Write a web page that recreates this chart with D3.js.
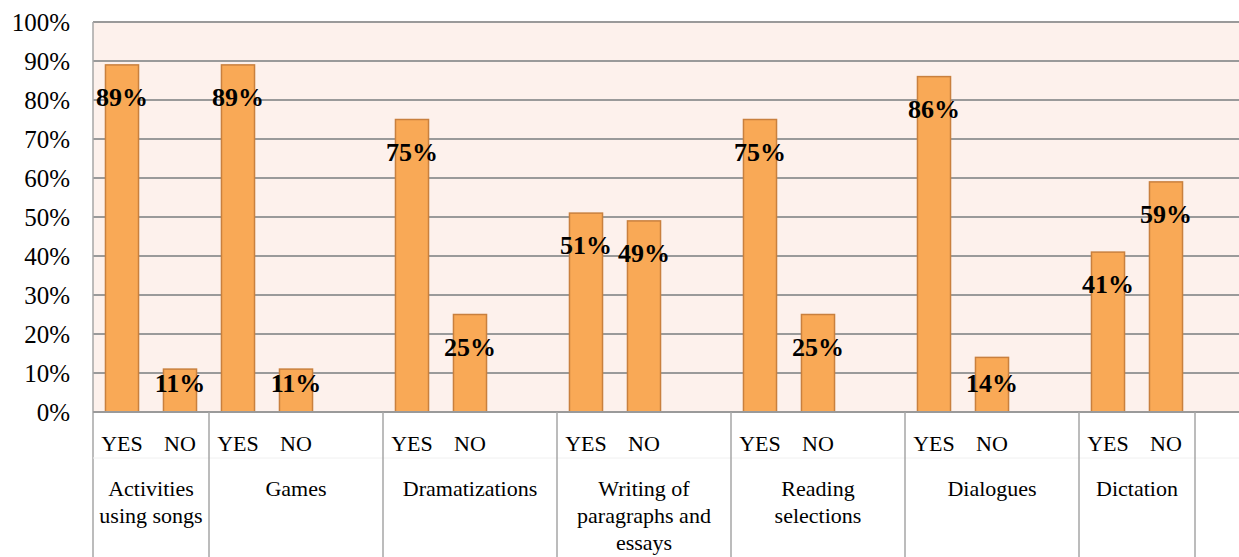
<!DOCTYPE html>
<html>
<head>
<meta charset="utf-8">
<script src="https://d3js.org/d3.v7.min.js"></script>
<style>
  body { margin: 0; background: #fff; }
  svg text { font-family: 'Liberation Serif', 'Times New Roman', Times, serif; fill: #000; }
</style>
</head>
<body>
<div id="chart"></div>
<script>
// chart data
var categories = ["Activities using songs", "Games", "Dramatizations",
  "Writing of paragraphs and essays", "Reading selections", "Dialogues", "Dictation"];
var categoryLines = [["Activities", "using songs"], ["Games"], ["Dramatizations"],
  ["Writing of", "paragraphs and", "essays"], ["Reading", "selections"], ["Dialogues"], ["Dictation"]];
var answers = ["YES", "NO"];
var yesValues = [89, 89, 75, 51, 75, 86, 41];
var noValues = [11, 11, 25, 49, 25, 14, 59];
// empty slot after the NO bar in these groups (as in the original sheet)
var blankAfter = [false, true, true, true, true, true, false];
var yTicks = [0, 10, 20, 30, 40, 50, 60, 70, 80, 90, 100];

var svgWidth = 1239;
var svgHeight = 557;
var serif = "Liberation Serif";

var margin = { top: 22, left: 93 };
var plotHeight = 390;
var slotWidth = 58;

// build the slots of the category axis
var slots = [];
categories.forEach(function(cat, i) {
  slots.push({ cat: i, answer: answers[0], value: yesValues[i] });
  slots.push({ cat: i, answer: answers[1], value: noValues[i] });
  if (blankAfter[i]) slots.push({ cat: i, answer: "", value: null });
});
// trailing empty group (cut off at the right edge)
slots.push({ cat: categories.length, answer: "", value: null });
slots.forEach(function(d, i) { d.key = "s" + i; });

var svg = d3.select("#chart").append("svg")
  .attr("width", svgWidth)
  .attr("height", svgHeight)
  .attr("font-family", serif);

var xScale = d3.scaleBand()
  .domain(slots.map(d => d.key))
  .range([margin.left, margin.left + slots.length * slotWidth])
  .padding(0);

var yScale = d3.scaleLinear()
  .domain([0, 100])
  .range([margin.top + plotHeight, margin.top]);

var plotRight = xScale.range()[1];
var y0 = yScale(0);

// plot background
svg.append("rect")
  .attr("x", margin.left)
  .attr("y", yScale(100))
  .attr("width", plotRight - margin.left)
  .attr("height", plotHeight)
  .attr("fill", "#fdf1ec");

// gridlines
svg.append("g")
  .selectAll("line")
  .data(yTicks)
  .enter()
  .append("line")
  .attr("x1", margin.left)
  .attr("x2", plotRight)
  .attr("y1", d => yScale(d))
  .attr("y2", d => yScale(d))
  .attr("stroke", "#9a9a9a")
  .attr("stroke-width", 2);

// left border of plot
svg.append("line")
  .attr("x1", margin.left).attr("x2", margin.left)
  .attr("y1", yScale(100)).attr("y2", svgHeight)
  .attr("stroke", "#a6a6a6")
  .attr("stroke-width", 1.5);

// y axis labels
var leftAxis = d3.axisLeft(yScale)
  .tickValues(yTicks)
  .tickFormat(d => d + "%")
  .tickSize(0)
  .tickPadding(23);

var yAxis = svg.append("g")
  .attr("transform", `translate(${margin.left}, 0)`)
  .call(leftAxis)
  .attr("font-family", serif)
  .attr("font-size", 25);
yAxis.select(".domain").remove();
yAxis.selectAll("text").attr("font-family", serif).attr("fill", "#000");

// bars
var barWidth = xScale.bandwidth() * 0.57;
var barSlots = slots.filter(d => d.value !== null);

svg.append("g")
  .selectAll("rect")
  .data(barSlots)
  .enter()
  .append("rect")
  .attr("x", d => xScale(d.key) + (xScale.bandwidth() - barWidth) / 2)
  .attr("y", d => yScale(d.value))
  .attr("width", barWidth)
  .attr("height", d => y0 - yScale(d.value))
  .attr("fill", "#f9a956")
  .attr("stroke", "#c9803e")
  .attr("stroke-width", 1.5);

// data labels
svg.append("g")
  .selectAll("text")
  .data(barSlots)
  .enter()
  .append("text")
  .attr("x", d => xScale(d.key) + xScale.bandwidth() / 2)
  .attr("y", d => Math.min(yScale(d.value) + 32, y0 - 29) + 9)
  .attr("text-anchor", "middle")
  .attr("font-family", serif)
  .attr("font-size", 26)
  .attr("font-weight", "bold")
  .text(d => d.value + "%");

// bottom axis line
svg.append("line")
  .attr("x1", margin.left).attr("x2", plotRight)
  .attr("y1", y0).attr("y2", y0)
  .attr("stroke", "#9a9a9a")
  .attr("stroke-width", 2);

// faint line between the two label levels
svg.append("line")
  .attr("x1", margin.left).attr("x2", plotRight)
  .attr("y1", 458).attr("y2", 458)
  .attr("stroke", "#f0f0f0")
  .attr("stroke-width", 1);

// group separators
var groupBounds = [];
var groups = d3.groups(slots, d => d.cat);
groups.forEach(function(g) {
  var first = g[1][0], last = g[1][g[1].length - 1];
  groupBounds.push({
    cat: g[0],
    x0: xScale(first.key),
    x1: xScale(last.key) + xScale.bandwidth()
  });
});

svg.append("g")
  .selectAll("line")
  .data(groupBounds)
  .enter()
  .append("line")
  .attr("x1", d => d.x1).attr("x2", d => d.x1)
  .attr("y1", y0).attr("y2", svgHeight)
  .attr("stroke", "#a6a6a6")
  .attr("stroke-width", 1.5);

// inner labels YES / NO
svg.append("g")
  .selectAll("text")
  .data(slots.filter(d => d.answer !== ""))
  .enter()
  .append("text")
  .attr("x", d => xScale(d.key) + xScale.bandwidth() / 2)
  .attr("y", 451)
  .attr("text-anchor", "middle")
  .attr("font-family", serif)
  .attr("font-size", 22)
  .text(d => d.answer);

// outer labels (categories)
var catLabels = svg.append("g")
  .selectAll("text")
  .data(groupBounds.filter(d => d.cat < categories.length))
  .enter()
  .append("text")
  .attr("text-anchor", "middle")
  .attr("font-family", serif)
  .attr("font-size", 22);

catLabels.selectAll("tspan")
  .data(d => categoryLines[d.cat].map(line => ({ line: line, x: (d.x0 + d.x1) / 2 })))
  .enter()
  .append("tspan")
  .attr("x", d => d.x)
  .attr("y", (d, i) => 496 + i * 27)
  .text(d => d.line);
</script>
</body>
</html>
